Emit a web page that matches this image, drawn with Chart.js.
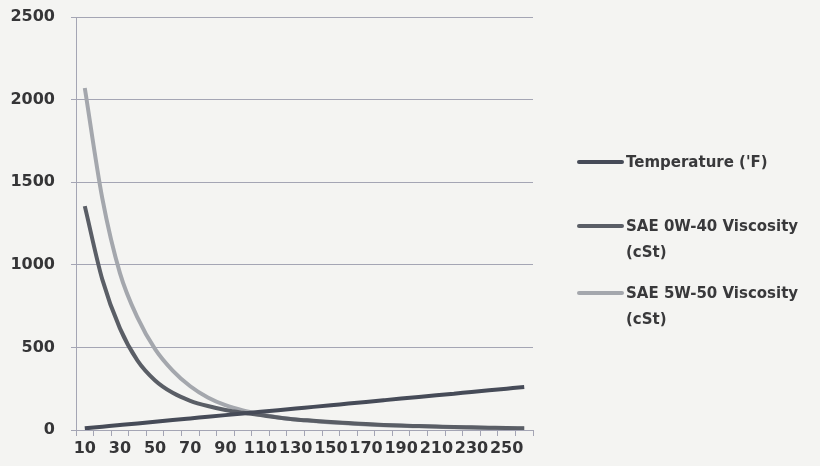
<!DOCTYPE html>
<html>
<head>
<meta charset="utf-8">
<script src="https://cdn.jsdelivr.net/npm/chart.js@4.4.1/dist/chart.umd.min.js"></script>
<style>
  html, body { margin: 0; padding: 0; background: #f4f4f2; }
  #wrap { position: relative; width: 820px; height: 466px; overflow: hidden; }
  canvas { position: absolute; left: 0; top: 0; }
  .lg { position: absolute; font-family: "DejaVu Sans", sans-serif; font-weight: bold; font-size: 15px; color: #39393b; line-height: 26px; white-space: nowrap; }
  .sw { position: absolute; height: 4px; width: 47px; border-radius: 2px; }
</style>
</head>
<body>
<div id="wrap">
  <canvas id="c" width="820" height="466"></canvas>
  <div id="legend"></div>
</div>
<script>
const categories = ['10','20','30','40','50','60','70','80','90','100','110','120','130','140','150','160','170','180','190','200','210','220','230','240','250','260'];
const temperature = [10,20,30,40,50,60,70,80,90,100,110,120,130,140,150,160,170,180,190,200,210,220,230,240,250,260];
const sae0w40 = [1355,910,615,420,300,225,177,145,121,104,90,76,64,56,48,42,36,31,27,24,21,18,16,14,12,11];
const sae5w50 = [2070,1400,950,680,490,360,265,197,150,118,95,76,63,54,46,40,34,29,25,22,19,16,14,12,10,9];
const seriesNames = ["Temperature ('F)", "SAE 0W-40 Viscosity (cSt)", "SAE 5W-50 Viscosity (cSt)"];
const seriesColors = ['#464b58', '#5a5e66', '#a4a7ad'];

const gridColor = '#a4a5b4';
const tickFont = { family: 'DejaVu Sans', weight: 'bold', size: 16 };

new Chart(document.getElementById('c'), {
  type: 'line',
  data: {
    labels: categories,
    datasets: [
      { label: seriesNames[0], data: temperature, borderColor: seriesColors[0], borderWidth: 4, pointRadius: 0, cubicInterpolationMode: 'monotone' },
      { label: seriesNames[1], data: sae0w40, borderColor: seriesColors[1], borderWidth: 4, pointRadius: 0, cubicInterpolationMode: 'monotone' },
      { label: seriesNames[2], data: sae5w50, borderColor: seriesColors[2], borderWidth: 4, pointRadius: 0, cubicInterpolationMode: 'monotone' }
    ]
  },
  options: {
    responsive: false,
    devicePixelRatio: 1,
    animation: false,
    layout: { padding: { top: 17, right: 287, left: 0, bottom: 0 } },
    plugins: { legend: { display: false }, tooltip: { enabled: false } },
    scales: {
      x: {
        offset: true,
        grid: { display: true, drawOnChartArea: false, drawTicks: true, tickLength: 6, color: gridColor, offset: true },
        border: { display: true, color: gridColor, width: 1 },
        ticks: {
          autoSkip: false, maxRotation: 0, minRotation: 0, padding: 3,
          color: '#353537', font: tickFont,
          callback: function(v, i) { return i % 2 === 0 ? categories[i] : ''; }
        },
        afterFit: function(s) { s.height = 36; s.paddingLeft = 0; s.paddingRight = 0; }
      },
      y: {
        min: 0, max: 2500,
        grid: { color: gridColor, tickLength: 5, drawTicks: true },
        border: { display: true, color: gridColor, width: 1 },
        ticks: { stepSize: 500, padding: 16, color: '#353537', font: tickFont,
          callback: function(v) { return String(v); } },
        afterFit: function(s) { s.width = 76; s.paddingTop = 0; s.paddingBottom = 0; }
      }
    }
  }
});

// HTML legend
const legendRows = [
  { lines: ["Temperature ('F)"], y: 162 },
  { lines: ["SAE 0W-40 Viscosity", "(cSt)"], y: 226 },
  { lines: ["SAE 5W-50 Viscosity", "(cSt)"], y: 293 }
];
const lg = document.getElementById('legend');
legendRows.forEach(function(r, i) {
  const sw = document.createElement('div');
  sw.className = 'sw';
  sw.style.left = '577px';
  sw.style.top = (r.y - 2) + 'px';
  sw.style.background = seriesColors[i];
  lg.appendChild(sw);
  const t = document.createElement('div');
  t.className = 'lg';
  t.style.left = '626px';
  t.style.top = (r.y - 13) + 'px';
  t.innerHTML = r.lines.join('<br>');
  lg.appendChild(t);
});
</script>
</body>
</html>
